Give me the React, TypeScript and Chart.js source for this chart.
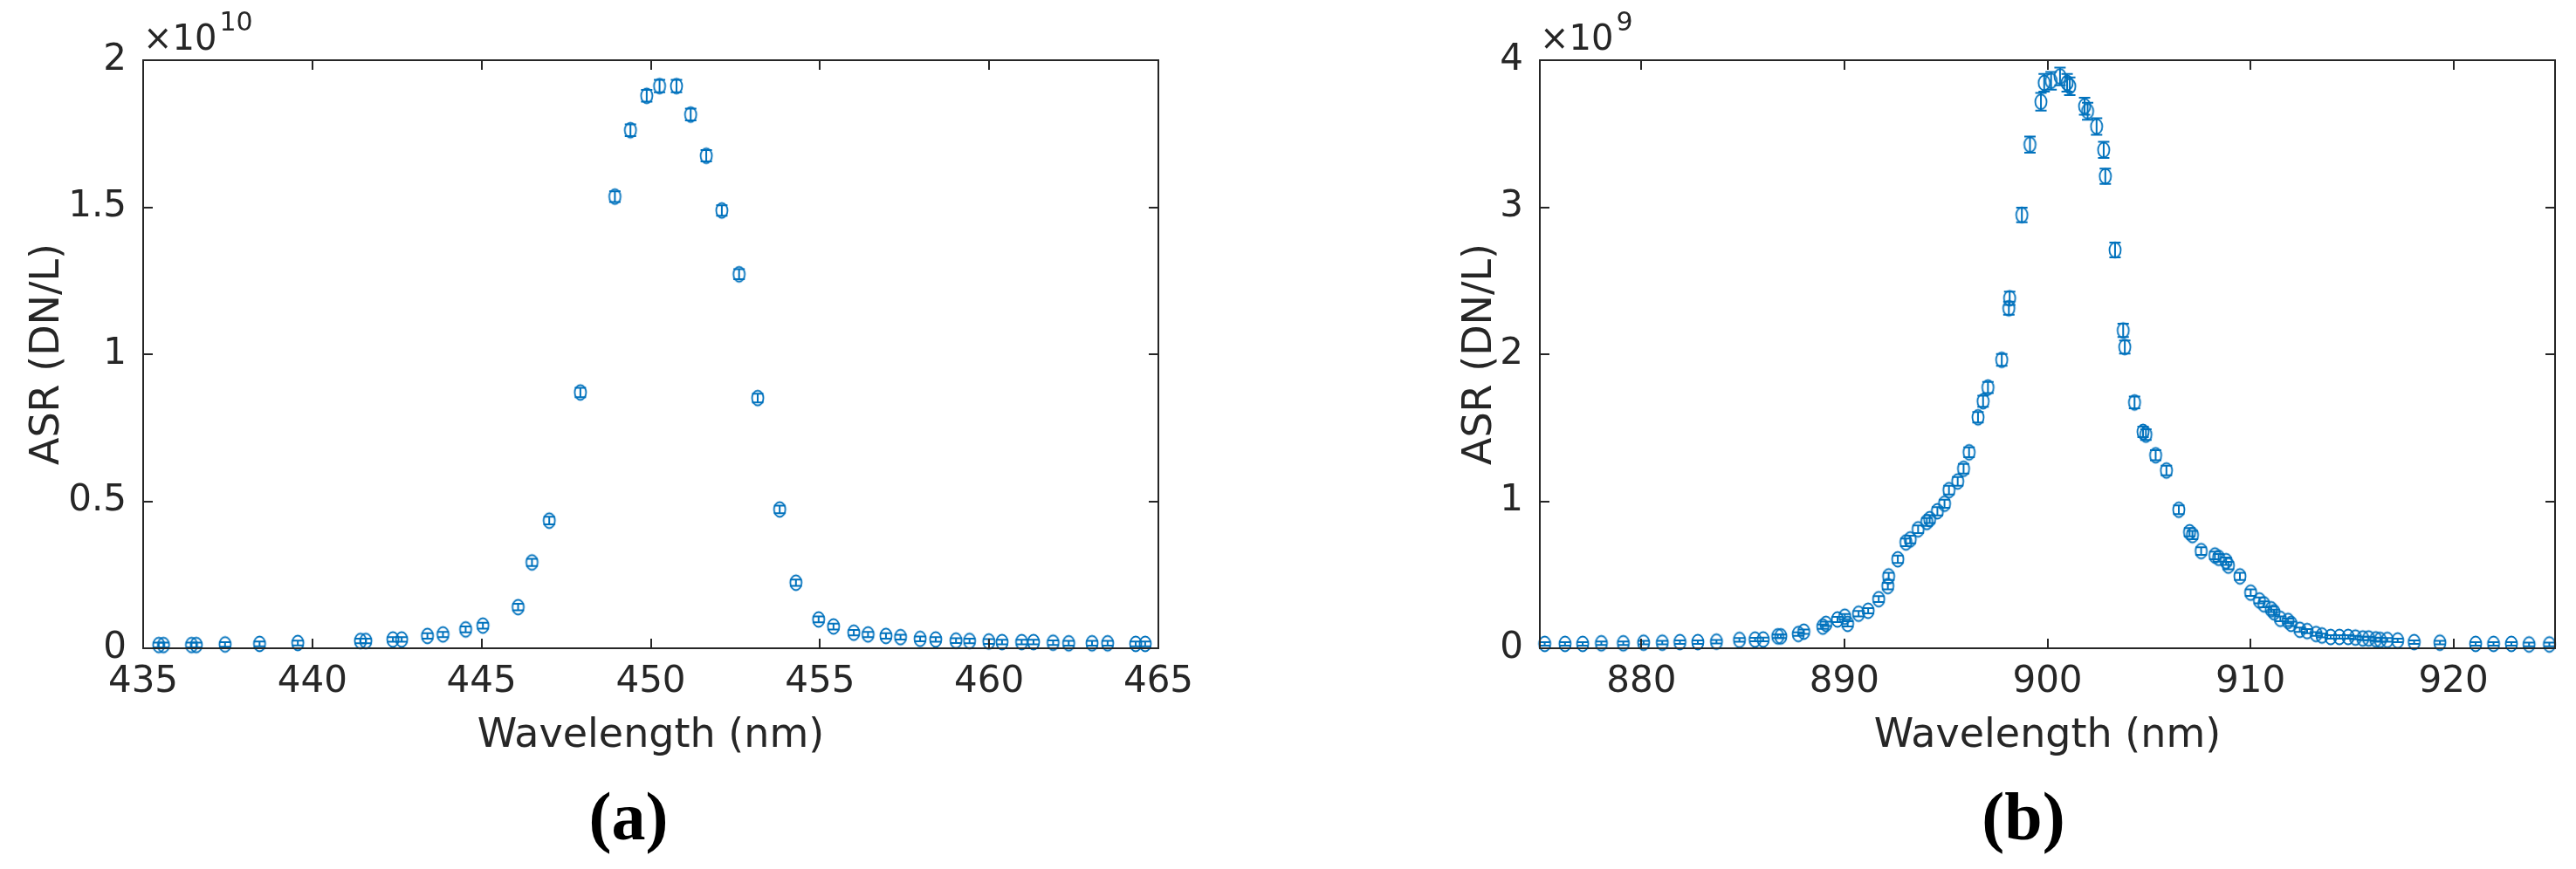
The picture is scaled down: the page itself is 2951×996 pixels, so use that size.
import React, { useEffect, useRef } from 'react';
import { Chart, registerables } from 'chart.js';

Chart.register(...registerables);

// ---------- Panel (a): 435–465 nm, ASR in units of 1e10 DN/L ----------
const wavelengthA = [
  435.46, 435.6, 436.43, 436.57, 437.42, 438.44, 439.57, 441.42, 441.58, 442.38,
  442.64, 443.4, 443.86, 444.53, 445.04, 446.08, 446.49, 447.0, 447.92, 448.94,
  449.4, 449.88, 450.26, 450.76, 451.18, 451.64, 452.1, 452.61, 453.16, 453.81,
  454.29, 454.96, 455.4, 456.0, 456.42, 456.95, 457.38, 457.96, 458.42, 459.02,
  459.42, 459.99, 460.38, 460.96, 461.31, 461.89, 462.35, 463.04, 463.5, 464.33,
  464.61,
];
const asrA = [
  0.011, 0.011, 0.011, 0.011, 0.013, 0.015, 0.018, 0.025, 0.025, 0.03,
  0.03, 0.042, 0.047, 0.064, 0.077, 0.14, 0.292, 0.434, 0.87, 1.536,
  1.762, 1.879, 1.912, 1.912, 1.815, 1.675, 1.489, 1.272, 0.851, 0.472,
  0.223, 0.098, 0.074, 0.053, 0.047, 0.042, 0.038, 0.032, 0.03, 0.026,
  0.025, 0.023, 0.021, 0.021, 0.021, 0.019, 0.017, 0.017, 0.017, 0.015,
  0.015,
];
const errA = [
  0.008, 0.008, 0.008, 0.008, 0.008, 0.008, 0.008, 0.008, 0.008, 0.008,
  0.008, 0.009, 0.009, 0.01, 0.01, 0.011, 0.012, 0.013, 0.016, 0.018,
  0.02, 0.02, 0.021, 0.021, 0.02, 0.019, 0.018, 0.017, 0.015, 0.013,
  0.011, 0.01, 0.01, 0.009, 0.009, 0.009, 0.008, 0.008, 0.008, 0.008,
  0.008, 0.008, 0.008, 0.008, 0.008, 0.008, 0.008, 0.008, 0.008, 0.008,
  0.008,
];
const xTicksA = [435, 440, 445, 450, 455, 460, 465];
const yTicksA = [0, 0.5, 1, 1.5, 2];

// ---------- Panel (b): 875–925 nm, ASR in units of 1e9 DN/L ----------
const wavelengthB = [
  875.24, 876.24, 877.11, 878.03, 879.11, 880.11, 881.03, 881.9, 882.78, 883.7,
  884.83, 885.6, 886.0, 886.72, 886.87, 887.73, 888.0, 888.94, 889.09, 889.66,
  890.02, 890.16, 890.7, 891.17, 891.69, 892.14, 892.18, 892.63, 893.03, 893.24,
  893.63, 894.06, 894.2, 894.58, 894.93, 895.15, 895.58, 895.87, 896.14, 896.58,
  896.83, 897.07, 897.75, 898.1, 898.14, 898.74, 899.14, 899.68, 899.84, 900.18,
  900.62, 900.97, 901.1, 901.83, 901.98, 902.42, 902.77, 902.85, 903.33, 903.73,
  903.81, 904.29, 904.71, 904.85, 905.33, 905.86, 906.47, 907.0, 907.14, 907.57,
  908.25, 908.43, 908.8, 908.91, 909.48, 910.01, 910.44, 910.66, 911.02, 911.16,
  911.47, 911.85, 912.0, 912.43, 912.79, 913.23, 913.52, 913.95, 914.38, 914.81,
  915.17, 915.53, 915.82, 916.17, 916.39, 916.74, 917.25, 918.06, 919.33, 921.09,
  921.97, 922.85, 923.72, 924.72,
];
const asrB = [
  0.03, 0.03, 0.03, 0.034, 0.034, 0.038, 0.038, 0.042, 0.042, 0.045,
  0.057, 0.059, 0.06, 0.081, 0.081, 0.097, 0.113, 0.147, 0.166, 0.196,
  0.215, 0.166, 0.235, 0.255, 0.334, 0.423, 0.489, 0.605, 0.72, 0.74,
  0.809, 0.859, 0.878, 0.932, 0.983, 1.076, 1.135, 1.221, 1.333, 1.571,
  1.68, 1.774, 1.962, 2.313, 2.381, 2.947, 3.426, 3.717, 3.846, 3.86,
  3.89, 3.846, 3.823, 3.687, 3.653, 3.549, 3.39, 3.211, 2.709, 2.162,
  2.049, 1.672, 1.472, 1.453, 1.313, 1.209, 0.942, 0.789, 0.77, 0.661,
  0.631, 0.615, 0.592, 0.562, 0.489, 0.378, 0.325, 0.299, 0.265, 0.245,
  0.2, 0.186, 0.166, 0.126, 0.117, 0.097, 0.087, 0.077, 0.077, 0.077,
  0.073, 0.067, 0.067, 0.061, 0.057, 0.057, 0.053, 0.042, 0.038, 0.03,
  0.03, 0.03, 0.026, 0.026,
];
const errB = [
  0.012, 0.012, 0.012, 0.012, 0.012, 0.012, 0.012, 0.012, 0.012, 0.012,
  0.012, 0.012, 0.012, 0.012, 0.012, 0.012, 0.015, 0.015, 0.015, 0.018,
  0.018, 0.018, 0.018, 0.018, 0.02, 0.022, 0.024, 0.025, 0.026, 0.026,
  0.026, 0.027, 0.027, 0.028, 0.028, 0.03, 0.03, 0.032, 0.033, 0.036,
  0.038, 0.038, 0.04, 0.045, 0.045, 0.05, 0.055, 0.06, 0.06, 0.06,
  0.06, 0.06, 0.06, 0.058, 0.058, 0.056, 0.055, 0.052, 0.05, 0.045,
  0.045, 0.04, 0.036, 0.036, 0.034, 0.033, 0.03, 0.028, 0.028, 0.026,
  0.026, 0.026, 0.025, 0.025, 0.024, 0.022, 0.02, 0.02, 0.018, 0.018,
  0.016, 0.016, 0.015, 0.015, 0.014, 0.013, 0.013, 0.012, 0.012, 0.012,
  0.012, 0.012, 0.012, 0.012, 0.012, 0.012, 0.012, 0.012, 0.012, 0.012,
  0.012, 0.012, 0.012, 0.012,
];
const xTicksB = [880, 890, 900, 910, 920];
const yTicksB = [0, 1, 2, 3, 4];

const INK = '#262626';
const BLUE = '#0072BD';
const SANS = '"DejaVu Sans", "Liberation Sans", sans-serif';
const SERIF = '"Liberation Serif", "DejaVu Serif", serif';

const H = 996;
const PLOT_TOP = 69;
const PLOT_BOTTOM = 743;

function makeMarker(): HTMLCanvasElement {
  const c = document.createElement('canvas');
  c.width = 18;
  c.height = 22;
  const g = c.getContext('2d');
  if (g) {
    g.strokeStyle = BLUE;
    g.lineWidth = 1.8;
    g.beginPath();
    g.ellipse(9, 11, 6.5, 8.5, 0, 0, Math.PI * 2);
    g.stroke();
  }
  return c;
}

type PanelProps = {
  xs: number[];
  ys: number[];
  errs: number[];
  xMin: number;
  xMax: number;
  yMax: number;
  xTicks: number[];
  yTicks: number[];
  exponent: string;
  label: string;
  canvasLeft: number;
  canvasWidth: number;
  plotLeft: number;
  plotRight: number;
  yTitleX: number;
  labelX: number;
};

function Panel(p: PanelProps) {
  const ref = useRef<HTMLCanvasElement>(null);

  useEffect(() => {
    const canvas = ref.current;
    if (!canvas) return;
    const marker = makeMarker();

    const decor = {
      id: 'decor',
      beforeDatasetsDraw(chart: any) {
        const ctx = chart.ctx;
        const sx = chart.scales.x;
        const sy = chart.scales.y;
        ctx.save();
        ctx.strokeStyle = BLUE;
        ctx.lineWidth = 2;
        p.xs.forEach((x, i) => {
          const e = p.errs[i] ?? 0.01;
          const px = sx.getPixelForValue(x);
          const y1 = sy.getPixelForValue(p.ys[i] - e);
          const y2 = sy.getPixelForValue(p.ys[i] + e);
          ctx.beginPath();
          ctx.moveTo(px, y1);
          ctx.lineTo(px, y2);
          ctx.moveTo(px - 6.5, y1);
          ctx.lineTo(px + 6.5, y1);
          ctx.moveTo(px - 6.5, y2);
          ctx.lineTo(px + 6.5, y2);
          ctx.stroke();
        });
        ctx.restore();
      },
      afterDatasetsDraw(chart: any) {
        const ctx = chart.ctx;
        const { left, right, top, bottom } = chart.chartArea;
        const sx = chart.scales.x;
        const sy = chart.scales.y;
        ctx.save();
        ctx.strokeStyle = INK;
        ctx.lineWidth = 2;
        ctx.strokeRect(left, top, right - left, bottom - top);
        ctx.beginPath();
        p.xTicks.forEach((v) => {
          const px = Math.round(sx.getPixelForValue(v));
          ctx.moveTo(px, bottom);
          ctx.lineTo(px, bottom - 11);
          ctx.moveTo(px, top);
          ctx.lineTo(px, top + 11);
        });
        p.yTicks.forEach((v) => {
          const py = Math.round(sy.getPixelForValue(v));
          ctx.moveTo(left, py);
          ctx.lineTo(left + 11, py);
          ctx.moveTo(right, py);
          ctx.lineTo(right - 11, py);
        });
        ctx.stroke();
        ctx.restore();
      },
      afterDraw(chart: any) {
        const ctx = chart.ctx;
        const { left, right } = chart.chartArea;
        ctx.save();
        ctx.fillStyle = INK;
        // exponent
        ctx.textAlign = 'left';
        ctx.textBaseline = 'alphabetic';
        ctx.font = `40px ${SANS}`;
        const base = '\u00d710';
        ctx.fillText(base, left, 57);
        const w = ctx.measureText(base).width;
        ctx.font = `30px ${SANS}`;
        ctx.fillText(p.exponent, left + w + 3, 35);
        // x title
        ctx.font = `46px ${SANS}`;
        ctx.textAlign = 'center';
        ctx.fillText('Wavelength (nm)', (left + right) / 2, 856);
        // y title
        ctx.save();
        ctx.translate(p.yTitleX, (PLOT_TOP + PLOT_BOTTOM) / 2);
        ctx.rotate(-Math.PI / 2);
        ctx.fillText('ASR (DN/L)', 0, 0);
        ctx.restore();
        // panel label
        ctx.fillStyle = '#000000';
        ctx.font = `bold 78px ${SERIF}`;
        ctx.fillText(p.label, p.labelX, 962);
        ctx.restore();
      },
    };

    const chart = new Chart(canvas, {
      type: 'scatter',
      data: {
        datasets: [
          {
            data: p.xs.map((x, i) => ({ x, y: p.ys[i] })),
            pointStyle: marker as any,
            pointRadius: 7,
            pointHoverRadius: 7,
            borderWidth: 1.8,
            borderColor: BLUE,
            backgroundColor: 'rgba(0,0,0,0)',
            showLine: false,
            clip: false as any,
          },
        ],
      },
      options: {
        animation: false,
        responsive: false,
        maintainAspectRatio: false,
        events: [],
        layout: {
          padding: { left: 0, right: p.canvasWidth - p.plotRight, top: PLOT_TOP, bottom: 0 },
        },
        plugins: { legend: { display: false }, tooltip: { enabled: false } },
        scales: {
          x: {
            type: 'linear',
            min: p.xMin,
            max: p.xMax,
            afterBuildTicks: (s: any) => {
              s.ticks = p.xTicks.map((v) => ({ value: v }));
            },
            afterFit: (s: any) => {
              s.height = H - PLOT_BOTTOM;
            },
            grid: { display: false, drawTicks: false },
            border: { display: false },
            ticks: {
              color: INK,
              font: { family: SANS, size: 42 },
              padding: 14,
              maxRotation: 0,
              autoSkip: false,
              callback: (v: any) => String(v),
            },
          },
          y: {
            type: 'linear',
            min: 0,
            max: p.yMax,
            afterBuildTicks: (s: any) => {
              s.ticks = p.yTicks.map((v) => ({ value: v }));
            },
            afterFit: (s: any) => {
              s.width = p.plotLeft;
            },
            grid: { display: false, drawTicks: false },
            border: { display: false },
            ticks: {
              color: INK,
              font: { family: SANS, size: 42 },
              padding: 19,
              autoSkip: false,
              callback: (v: any) => String(v),
            },
          },
        },
      },
      plugins: [decor],
    });

    return () => chart.destroy();
  }, []);

  return (
    <canvas
      ref={ref}
      width={p.canvasWidth}
      height={H}
      style={{ position: 'absolute', left: p.canvasLeft, top: 0, width: p.canvasWidth, height: H }}
    />
  );
}

export default function App() {
  return (
    <div style={{ position: 'absolute', left: 0, top: 0, width: 2951, height: H, background: '#ffffff', overflow: 'hidden' }}>
      <Panel
        xs={wavelengthA}
        ys={asrA}
        errs={errA}
        xMin={435}
        xMax={465}
        yMax={2}
        xTicks={xTicksA}
        yTicks={yTicksA}
        exponent="10"
        label="(a)"
        canvasLeft={0}
        canvasWidth={1475}
        plotLeft={164}
        plotRight={1327}
        yTitleX={67}
        labelX={720}
      />
      <Panel
        xs={wavelengthB}
        ys={asrB}
        errs={errB}
        xMin={875}
        xMax={925}
        yMax={4}
        xTicks={xTicksB}
        yTicks={yTicksB}
        exponent="9"
        label="(b)"
        canvasLeft={1475}
        canvasWidth={1476}
        plotLeft={289}
        plotRight={1452}
        yTitleX={233}
        labelX={843}
      />
    </div>
  );
}
